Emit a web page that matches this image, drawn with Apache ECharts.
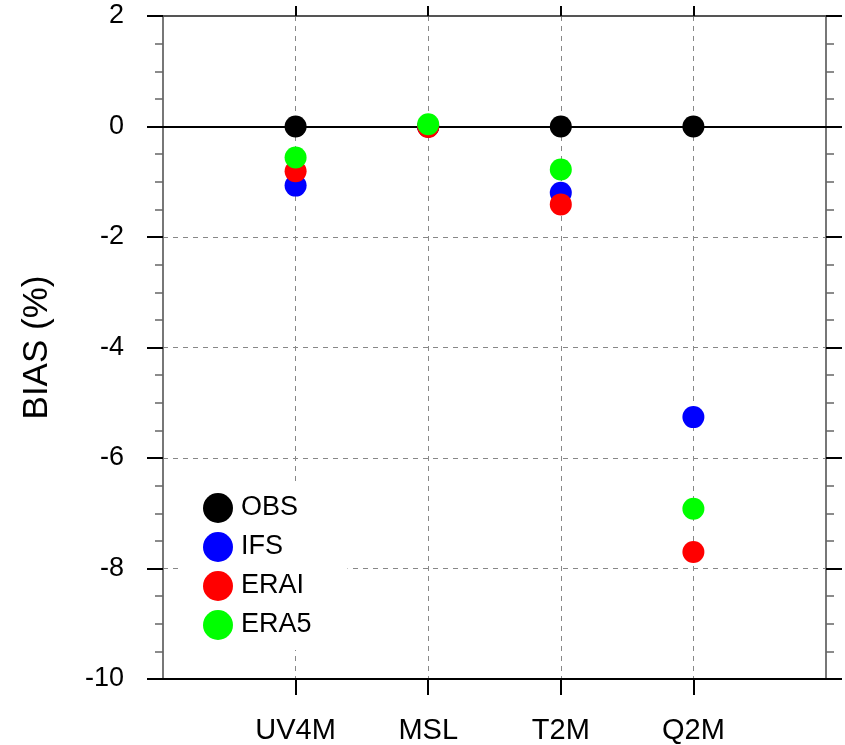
<!DOCTYPE html>
<html>
<head>
<meta charset="utf-8">
<script src="https://cdn.jsdelivr.net/npm/echarts@6/dist/echarts.min.js"></script>
<style>html,body{margin:0;padding:0;background:#fff;}#c{width:845px;height:745px;}</style>
</head>
<body>
<div id="c"></div>
<script>
var categories = ['', 'UV4M', 'MSL', 'T2M', 'Q2M', ''];
var seriesNames = ['OBS', 'IFS', 'ERAI', 'ERA5'];
var obsValues  = [0, 0, 0, 0];
var ifsValues  = [-1.07, 0.0, -1.20, -5.26];
var eraiValues = [-0.81, -0.01, -1.41, -7.70];
var era5Values = [-0.56, 0.04, -0.78, -6.92];
var yTicks = [-10, -8, -6, -4, -2, 0, 2];

var colors = ['#000000', '#0000ff', '#ff0000', '#00ff00'];
var FONT = 'Liberation Sans, Arial, sans-serif';
var valueSets = [obsValues, ifsValues, eraiValues, era5Values];
var inner = function (i) { return i > 0 && i < categories.length - 1; };

var series = seriesNames.map(function (name, k) {
  var s = {
    name: name,
    type: 'scatter',
    symbol: 'circle',
    symbolSize: 22,
    itemStyle: { color: colors[k], opacity: 1 },
    data: valueSets[k].map(function (v, i) { return [categories[i + 1], v]; }),
    z: 5 + k
  };
  if (k === 0) {
    s.markLine = {
      silent: true, symbol: ['none', 'none'], label: { show: false },
      lineStyle: { color: '#000', width: 2, type: 'solid' },
      data: [{ yAxis: 0 }], z: 3
    };
  }
  return s;
});

var chart = echarts.init(document.getElementById('c'), null, { renderer: 'canvas' });
chart.setOption({
  backgroundColor: '#ffffff',
  animation: false,
  textStyle: { fontFamily: FONT },
  grid: { left: 163, right: 19, top: 16, bottom: 65, containLabel: false },
  legend: {
    data: seriesNames,
    orient: 'vertical',
    left: 183, top: 483,
    padding: [10, 36, 10, 20],
    backgroundColor: '#ffffff',
    icon: 'circle',
    itemWidth: 30, itemHeight: 30, itemGap: 9,
    textStyle: { fontFamily: FONT, fontSize: 27, color: '#000', padding: [0, 0, 0, 3] },
    z: 10
  },
  xAxis: [{
    type: 'category', data: categories, boundaryGap: false, position: 'bottom',
    axisLine: { show: true, onZero: false, lineStyle: { color: '#000', width: 2 } },
    axisTick: { show: true, inside: false, length: 16, interval: inner, lineStyle: { color: '#000', width: 2 } },
    axisLabel: { interval: 0, margin: 37, fontSize: 29, color: '#000', fontFamily: FONT },
    splitLine: { show: true, interval: inner, lineStyle: { color: '#888', type: [5, 5], width: 1 } }
  }, {
    type: 'category', data: categories, boundaryGap: false, position: 'top',
    axisLine: { show: true, onZero: false, lineStyle: { color: '#555', width: 2 } },
    axisTick: { show: true, inside: false, length: 10, interval: inner, lineStyle: { color: '#000', width: 2 } },
    axisLabel: { show: false },
    splitLine: { show: false }
  }],
  yAxis: [{
    type: 'value', min: -10, max: 2, interval: 2, position: 'left',
    name: 'BIAS (%)', nameLocation: 'middle', nameRotate: 90, nameGap: 108,
    nameTextStyle: { fontSize: 35, color: '#000', fontFamily: FONT },
    axisLine: { show: true, onZero: false, lineStyle: { color: '#777', width: 2 } },
    axisTick: { show: true, inside: false, length: 16, lineStyle: { color: '#000', width: 2 } },
    minorTick: { show: true, splitNumber: 4, length: 8, lineStyle: { color: '#666', width: 1.5 } },
    axisLabel: { margin: 39, fontSize: 27, color: '#000', fontFamily: FONT,
      formatter: function (v) { return yTicks.indexOf(v) >= 0 ? String(v) : ''; } },
    splitLine: { show: true, lineStyle: { color: '#888', type: [5, 5], width: 1 } }
  }, {
    type: 'value', min: -10, max: 2, interval: 2, position: 'right',
    axisLine: { show: true, onZero: false, lineStyle: { color: '#777', width: 2 } },
    axisTick: { show: true, inside: false, length: 16, lineStyle: { color: '#000', width: 2 } },
    minorTick: { show: true, splitNumber: 4, length: 8, lineStyle: { color: '#666', width: 1.5 } },
    axisLabel: { show: false },
    splitLine: { show: false }
  }],
  series: series
});
</script>
</body>
</html>
